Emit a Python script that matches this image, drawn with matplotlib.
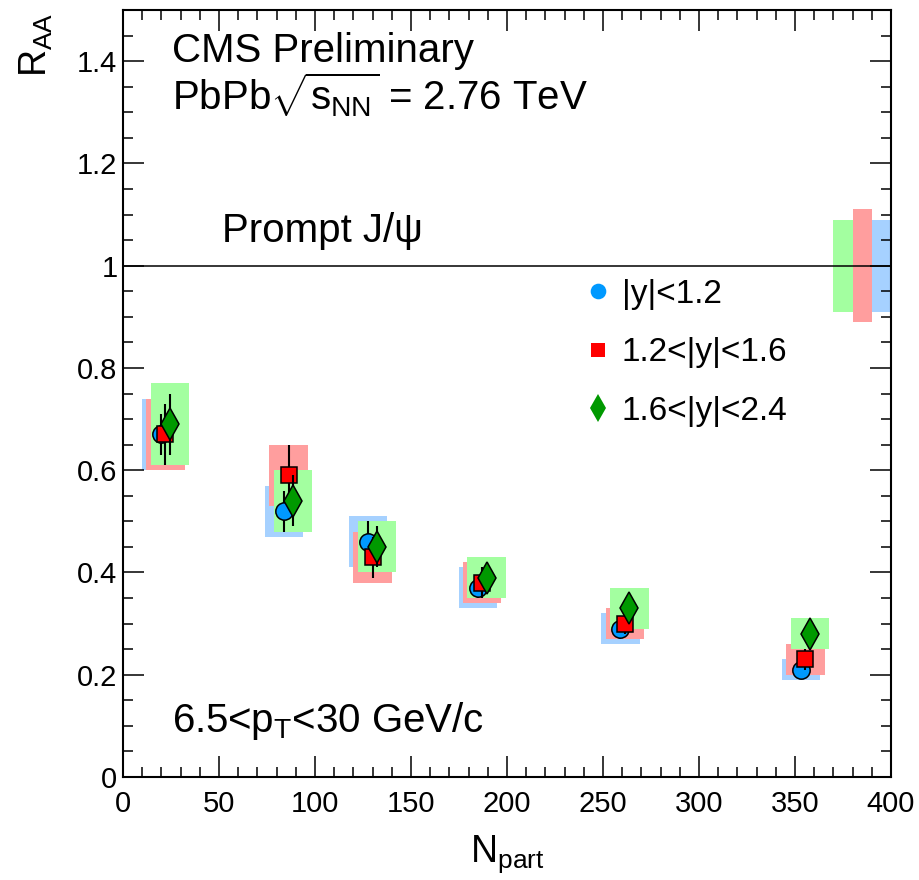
import numpy as np
import matplotlib
matplotlib.use('Agg')
import matplotlib.pyplot as plt
from matplotlib.lines import Line2D

plt.rcParams['font.family'] = ['Liberation Sans', 'DejaVu Sans']
plt.rcParams['mathtext.fontset'] = 'custom'
plt.rcParams['mathtext.rm'] = 'Liberation Sans'
plt.rcParams['mathtext.it'] = 'Liberation Sans'
plt.rcParams['mathtext.bf'] = 'Liberation Sans'

# R_AA vs Npart, prompt J/psi, three rapidity bins
npart_y0 = [19.8, 84.0, 127.7, 184.8, 259.1, 353.1]
npart_y1 = [22.1, 86.3, 130.0, 187.1, 261.4, 355.4]
npart_y2 = [24.4, 88.6, 132.3, 189.4, 263.7, 357.7]

raa_y0 = [0.67, 0.52, 0.46, 0.37, 0.29, 0.21]
stat_y0 = [0.04, 0.04, 0.04, 0.02, 0.02, 0.015]
syst_y0 = [0.07, 0.05, 0.05, 0.04, 0.03, 0.02]

raa_y1 = [0.67, 0.59, 0.43, 0.38, 0.30, 0.23]
stat_y1 = [0.06, 0.06, 0.04, 0.03, 0.02, 0.02]
syst_y1 = [0.07, 0.06, 0.05, 0.04, 0.03, 0.03]

raa_y2 = [0.69, 0.54, 0.45, 0.39, 0.33, 0.28]
stat_y2 = [0.06, 0.05, 0.04, 0.03, 0.02, 0.02]
syst_y2 = [0.08, 0.06, 0.05, 0.04, 0.04, 0.03]

# global uncertainties drawn at R_AA = 1 on the right
glob_x = [395, 385, 375]
glob_unc = [0.09, 0.11, 0.09]

labels = ['|y|<1.2', '1.2<|y|<1.6', '1.6<|y|<2.4']
marker_colors = ['#0099ff', '#ff0000', '#009900']
box_colors = ['#a6d1ff', '#ff9e9e', '#a3ffa0']
markers = ['o', 's', 'd']
msizes = [12.5, 11, 16]

fig = plt.figure(figsize=(9.19, 8.8), dpi=100)
ax = fig.add_axes([123 / 919, 103 / 880, 768 / 919, 767 / 880])

series = [
    (npart_y0, raa_y0, stat_y0, syst_y0),
    (npart_y1, raa_y1, stat_y1, syst_y1),
    (npart_y2, raa_y2, stat_y2, syst_y2),
]

# systematic boxes
for i, (npart, raa, stat, syst) in enumerate(series):
    raa = np.array(raa)
    syst = np.array(syst)
    ax.bar(npart, 2 * syst, bottom=raa - syst, width=20, color=box_colors[i],
           linewidth=0, zorder=1)

for i in range(3):
    ax.bar(glob_x[i], 2 * glob_unc[i], bottom=1 - glob_unc[i], width=10,
           color=box_colors[i], linewidth=0, zorder=1)

ax.axhline(1, color='black', lw=1.1, zorder=2)

# points with stat errors
for i, (npart, raa, stat, syst) in enumerate(series):
    ax.errorbar(npart, raa, yerr=stat, fmt=markers[i], color=marker_colors[i],
                ms=msizes[i], mec='black', mew=1.1, ecolor='black',
                elinewidth=1.5, capsize=0, zorder=3 + i)

ax.set_xlim(0, 400)
ax.set_ylim(0, 1.5)
ax.set_xticks(np.arange(0, 401, 50))
ax.set_xticks(np.arange(0, 401, 10), minor=True)
ax.set_yticks(np.arange(0, 1.41, 0.2))
ax.set_yticks(np.arange(0, 1.5, 0.05), minor=True)
ax.set_yticklabels(['%g' % round(v, 1) for v in np.arange(0, 1.41, 0.2)])

ax.tick_params(which='both', direction='in', top=True, right=True, width=1.1)
ax.tick_params(which='major', length=15, labelsize=21)
ax.tick_params(which='minor', length=7)
ax.tick_params(axis='x', pad=9)
ax.tick_params(axis='y', pad=4)
for sp in ax.spines.values():
    sp.set_linewidth(1.5)

ax.text(0.0634, 0.9326, 'CMS Preliminary', transform=ax.transAxes,
        fontsize=29, va='baseline', ha='left')
ax.text(0.0634, 0.8687, r'PbPb$\sqrt{s_{\mathrm{NN}}}$ = 2.76 TeV',
        transform=ax.transAxes, fontsize=29, va='baseline', ha='left')
ax.text(0.1285, 0.698, 'Prompt J/ψ', transform=ax.transAxes,
        fontsize=29, va='baseline', ha='left')
ax.text(0.0634, 0.0591, r'6.5<p$_{\mathrm{T}}$<30 GeV/c',
        transform=ax.transAxes, fontsize=29, va='baseline', ha='left')

ax.text(0.4518, -0.1104, r'N$_{\mathrm{part}}$', transform=ax.transAxes,
        fontsize=27, va='baseline', ha='left')
fig.text(36 / 919, 1 - 13 / 880, r'R$_{\mathrm{AA}}$', rotation=90,
         fontsize=27, va='top', ha='center')

handles = [Line2D([], [], marker=markers[i], color=marker_colors[i], ls='none',
                  ms=msizes[i] * 0.9, mew=0) for i in range(3)]
ax.legend(handles, labels, loc='upper left',
          bbox_to_anchor=(590 / 919, 1 - 279 / 880),
          bbox_transform=fig.transFigure, frameon=False, fontsize=24,
          handlelength=0.5, handletextpad=0.45, labelspacing=0.82,
          borderpad=0, borderaxespad=0)

fig.savefig('out.png', dpi=100)
